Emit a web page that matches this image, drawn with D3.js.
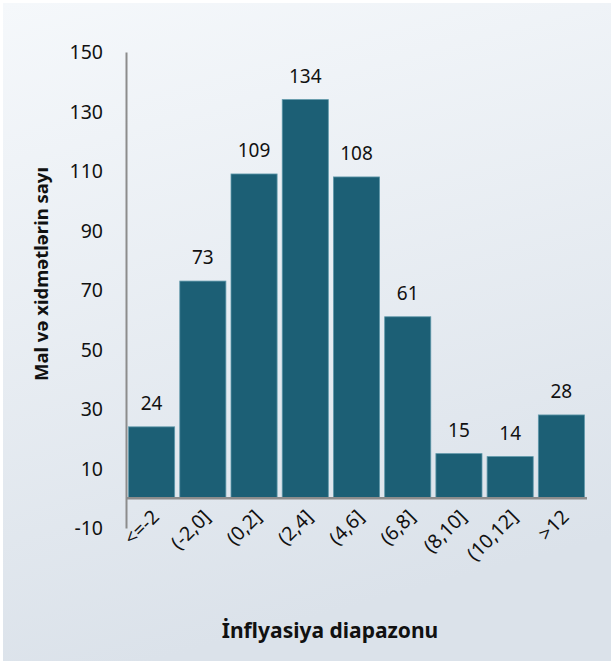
<!DOCTYPE html>
<html>
<head>
<meta charset="utf-8">
<script src="https://cdn.jsdelivr.net/npm/d3@7/dist/d3.min.js"></script>
<style>
  html, body { margin: 0; padding: 0; background: #ffffff; }
  svg { display: block; }
</style>
</head>
<body>
<svg id="chart" width="611" height="661"></svg>
<script>
// Inflation-range histogram: number of goods and services per range
const categories = ["<=-2", "(-2,0]", "(0,2]", "(2,4]", "(4,6]", "(6,8]", "(8,10]", "(10,12]", ">12"];
const counts = [24, 73, 109, 134, 108, 61, 15, 14, 28];
const yTicks = [-10, 10, 30, 50, 70, 90, 110, 130, 150];
const yTitle = "Mal və xidmətlərin sayı";
const xTitle = "İnflyasiya diapazonu";

const W = 611, H = 661;
const plotLeft = 126, plotRight = 587, plotTop = 52, plotBottom = 528;
const font = "'Noto Sans', 'Open Sans', sans-serif";

const svg = d3.select("#chart");

// soft panel background
const defs = svg.append("defs");
const grad = defs.append("linearGradient")
  .attr("id", "bg").attr("x1", 0).attr("y1", 0).attr("x2", 0.25).attr("y2", 1);
grad.append("stop").attr("offset", "0%").attr("stop-color", "#f5f8fb");
grad.append("stop").attr("offset", "100%").attr("stop-color", "#dbe2ea");
svg.append("rect").attr("x", 3).attr("y", 3).attr("width", W - 3).attr("height", H - 3)
  .attr("fill", "url(#bg)");

const x = d3.scaleBand().domain(categories).range([plotLeft, plotRight]).paddingInner(0.1).paddingOuter(0.05);
const y = d3.scaleLinear().domain([-10, 150]).range([plotBottom, plotTop]);

// bars
svg.append("g").selectAll("rect").data(counts).join("rect")
  .attr("x", (d, i) => x(categories[i]))
  .attr("width", x.bandwidth())
  .attr("y", d => y(d))
  .attr("height", d => y(0) - y(d))
  .attr("fill", "#1c5f75")
  .attr("stroke", "#5f98aa")
  .attr("stroke-width", 0.8);

// value labels
svg.append("g").selectAll("text").data(counts).join("text")
  .attr("x", (d, i) => x(categories[i]) + x.bandwidth() / 2)
  .attr("y", d => y(d) - 17)
  .attr("text-anchor", "middle")
  .attr("font-family", font).attr("font-size", 19).attr("fill", "#111")
  .text(d => d);

// y axis
const yAxis = d3.axisLeft(y).tickValues(yTicks).tickSize(0).tickPadding(23)
  .tickFormat(d => String(d));
const gy = svg.append("g").attr("transform", `translate(${plotLeft},0)`).call(yAxis);
gy.select(".domain").attr("stroke", "#8c8c8c").attr("stroke-width", 2);
gy.selectAll("text").attr("font-family", font).attr("font-size", 19.5).attr("fill", "#111")
  .attr("dy", "0.35em");

// x baseline at zero
const xAxis = d3.axisBottom(x).tickSize(0).tickPadding(0);
const gx = svg.append("g").attr("transform", `translate(0,${y(0)})`).call(xAxis);
gx.select(".domain").attr("stroke", "#8c8c8c").attr("stroke-width", 2.5)
  .attr("d", `M${plotLeft},0H${plotRight}`);
gx.selectAll(".tick text")
  .attr("font-family", font).attr("font-size", 19.5).attr("fill", "#111")
  .attr("text-anchor", "end")
  .attr("transform", "translate(4,15) rotate(-45)")
  .attr("dy", "0.35em");

// axis titles
svg.append("text")
  .attr("x", 330).attr("y", 638)
  .attr("text-anchor", "middle")
  .attr("font-family", font).attr("font-size", 21).attr("font-weight", "bold").attr("fill", "#111")
  .text(xTitle);

svg.append("text")
  .attr("transform", "translate(48,274) rotate(-90)")
  .attr("text-anchor", "middle")
  .attr("font-family", font).attr("font-size", 18.5).attr("font-weight", "bold").attr("fill", "#111")
  .text(yTitle);
</script>
</body>
</html>
